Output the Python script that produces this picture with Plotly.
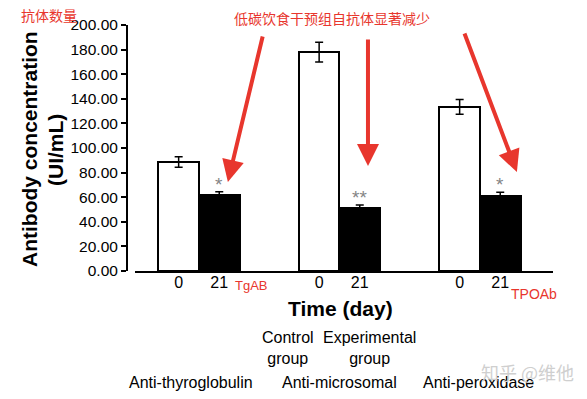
import plotly.graph_objects as go

# ---- data ----
antibodies = ["Anti-thyroglobulin", "Anti-microsomal", "Anti-peroxidase"]
short_names = ["TgAB", "", "TPOAb"]
day_labels = ["0", "21"]
control_values = [88.6, 178.0, 133.5]
control_err = [4.2, 8.0, 6.0]
exp_values = [61.8, 51.4, 60.7]
exp_err = [2.7, 2.2, 3.3]
significance = ["*", "**", "*"]
y_ticks = [0, 20, 40, 60, 80, 100, 120, 140, 160, 180, 200]

RED = "#e8362d"
FONT = "Liberation Sans, Arial, sans-serif"

groups = list(range(len(antibodies)))
half = 0.1445
bw = 0.289

fig = go.Figure()
fig.add_trace(go.Bar(
    x=[g - half for g in groups], y=control_values, width=bw,
    marker=dict(color="white", line=dict(color="black", width=2)),
    error_y=dict(type="data", array=control_err, color="black", thickness=1.5, width=4),
    name="Control group", showlegend=False))
fig.add_trace(go.Bar(
    x=[g + half for g in groups], y=exp_values, width=bw,
    marker=dict(color="black", line=dict(color="black", width=2)),
    error_y=dict(type="data", array=exp_err, color="black", thickness=1.5, width=4),
    name="Experimental group", showlegend=False))

tickvals, ticktext = [], []
for g in groups:
    tickvals += [g - half, g + half]
    ticktext += day_labels


def px_x(p):
    return (p - 128) / 425


def px_y(p):
    return (271 - p) / 246


def note(x, y, text, size, color="black", family=FONT, **kw):
    d = dict(xref="paper", yref="paper", x=px_x(x), y=px_y(y), text=text, showarrow=False,
             xanchor="center", yanchor="middle", font=dict(size=size, color=color, family=family))
    d.update(kw)
    return d


ann = []
# significance stars
for g, v, e, s in zip(groups, exp_values, exp_err, significance):
    ann.append(dict(x=g + half, y=v + e, text=s, showarrow=False, xanchor="center", yanchor="bottom",
                    yshift=-5, font=dict(size=19, color="#858585", family=FONT)))
# short red labels
ann.append(note(251, 285, short_names[0], 13, RED))
ann.append(note(534, 294, short_names[2], 14, RED))
# axis titles
ann.append(note(29, 149, "<b>Antibody concentration</b>", 21, textangle=-90))
ann.append(note(55, 150, "<b>(UI/mL)</b>", 21, textangle=-90))
ann.append(note(340, 308, "<b>Time (day)</b>", 21))
# group legend text
ann.append(note(288, 348, "Control<br>group", 16))
ann.append(note(369, 348, "Experimental<br>group", 16))
# antibody names
for g, name, sh in zip(groups, antibodies, [-8, 0, -1]):
    ann.append(dict(x=g, yref="paper", y=px_y(382), text=name, showarrow=False,
                    xanchor="center", yanchor="middle", xshift=sh,
                    font=dict(size=16, color="black", family=FONT)))
# red chinese notes
ann.append(note(49, 15, "抗体数量", 14, RED, "Noto Sans CJK SC"))
ann.append(note(332, 18, "低碳饮食干预组自抗体显著减少", 14, RED, "Noto Sans CJK SC"))
# watermark
ann.append(note(527, 372, "知乎 @维他", 18, "#cfcfcf", "Noto Sans CJK SC"))
# red arrows (head, tail) in data coords
arrows = [((0.206, 72.4), (0.456, 191.9)),
          ((1.203, 85.4), (1.203, 189.4)),
          ((2.263, 80.5), (1.886, 194.3))]
for (hx, hy), (tx, ty) in arrows:
    ann.append(dict(x=hx, y=hy, ax=tx, ay=ty, axref="x", ayref="y", text="",
                    showarrow=True, arrowhead=2, arrowsize=1.1, arrowwidth=4,
                    arrowcolor=RED))

fig.update_layout(
    width=587, height=399,
    margin=dict(l=128, r=34, t=25, b=128),
    paper_bgcolor="white", plot_bgcolor="white",
    font=dict(family=FONT, color="black"),
    bargap=0,
    annotations=ann,
    xaxis=dict(range=[-0.505, 2.52], tickvals=tickvals, ticktext=ticktext,
               showgrid=False, zeroline=False, showline=False, ticks="",
               tickfont=dict(size=16, color="black")),
    yaxis=dict(range=[0, 200], tickvals=y_ticks, tickformat=".2f",
               showgrid=False, zeroline=False, showline=True, linecolor="black",
               linewidth=2, ticks="outside", ticklen=5, tickwidth=2, tickcolor="black",
               tickfont=dict(size=15.5, color="black")),
    shapes=[dict(type="line", xref="paper", yref="paper", x0=7 / 425, x1=1, y0=-0.004, y1=-0.004,
                 line=dict(color="black", width=2))],
)

fig.write_html("out.html", config={"displayModeBar": False},
               post_script="document.body.style.margin='0';document.body.style.overflow='hidden';")
